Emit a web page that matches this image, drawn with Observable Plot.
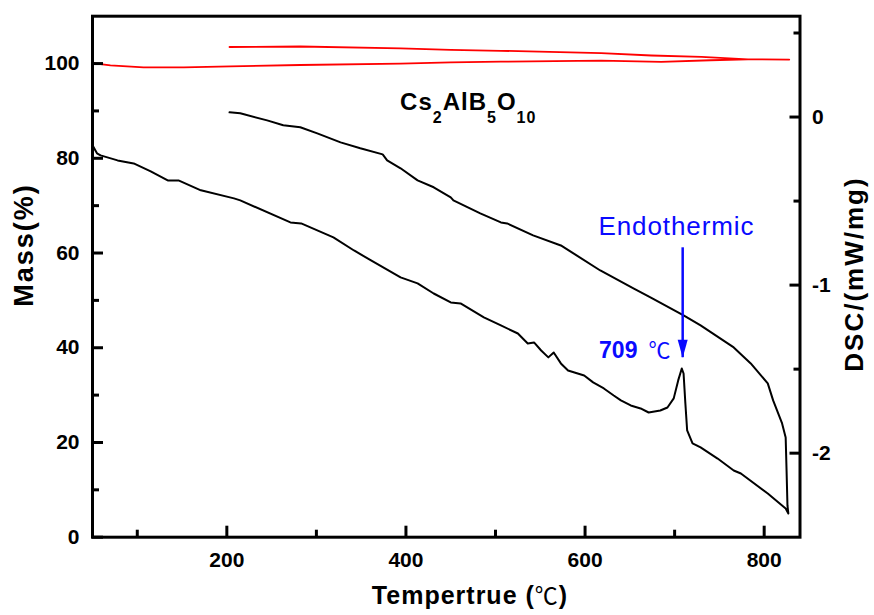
<!DOCTYPE html>
<html><head><meta charset="utf-8">
<script src="https://cdn.jsdelivr.net/npm/d3@7"></script>
<script src="https://cdn.jsdelivr.net/npm/@observablehq/plot@0.6"></script>
<style>body{margin:0;background:#fff;} svg{display:block;}</style>
</head><body><div id="chart"></div>
<script>
// DSC curve, heating run (temperature °C, DSC mW/mg)
const heatT = [50,55,59,78,96,115,134,146,171,208,215,271,283,319,342,361,394,413,431,450,461,487,506,525,536,543,551,559,565,573,581,599,609,621,632,640,651,662,671,684,692,699,704,708,710,712,714,720,729,748,766,774,804,824,827];
const heatDSC = [-0.168,-0.216,-0.228,-0.258,-0.276,-0.323,-0.377,-0.377,-0.436,-0.484,-0.496,-0.627,-0.633,-0.716,-0.794,-0.853,-0.954,-0.990,-1.050,-1.103,-1.109,-1.192,-1.240,-1.288,-1.347,-1.341,-1.389,-1.430,-1.401,-1.466,-1.508,-1.538,-1.579,-1.615,-1.657,-1.686,-1.716,-1.734,-1.758,-1.746,-1.728,-1.674,-1.567,-1.496,-1.526,-1.704,-1.865,-1.942,-1.966,-2.032,-2.103,-2.121,-2.240,-2.329,-2.359];
// DSC curve, cooling run
const coolT = [826,825,824,820,810,804,785,766,729,710,673,654,617,587,573,542,513,506,483,453,450,431,413,394,379,374,349,327,301,282,263,245,215,203];
const coolDSC = [-2.311,-2.103,-1.907,-1.823,-1.686,-1.585,-1.466,-1.371,-1.240,-1.180,-1.073,-1.020,-0.913,-0.811,-0.764,-0.704,-0.633,-0.627,-0.573,-0.496,-0.478,-0.418,-0.377,-0.305,-0.258,-0.222,-0.186,-0.151,-0.097,-0.061,-0.049,-0.020,0.022,0.028];
// TG (mass %), heating then cooling
const massHeatT = [50,70,107,152,204,282,394,450,506,618,685,740,782,828];
const massHeat = [100.1,99.6,99.2,99.2,99.4,99.7,100.0,100.25,100.4,100.6,100.35,100.7,100.9,100.85];
const massCoolT = [828,782,730,674,618,506,450,394,282,203];
const massCool = [100.85,100.9,101.4,101.7,102.2,102.7,102.9,103.2,103.6,103.5];

// axes
const xTicks = [200,400,600,800];
const xMinor = [100,300,500,700];
const massTicks = [0,20,40,60,80,100];
const massMinor = [10,30,50,70,90];
const dscTicks = [0,-1,-2];
const dscMinor = [0.5,-0.5,-1.5];
const xDomain = [50,840];
const massDomain = [0,110];
const dscDomain = [-2.5,0.6];

// annotations
const peakT = 709;
const peakLabel = "709";
const arrowTop = 61.1, arrowTip = 37.9;   // in mass-axis units
const endoLabel = {T: 615, y: 63.7, text: "Endothermic"};
const formula = {T: 394, y: 90.1};

const toMass = d => (d - dscDomain[0]) / (dscDomain[1] - dscDomain[0]) * (massDomain[1] - massDomain[0]) + massDomain[0];
const fromMass = m => (m - massDomain[0]) / (massDomain[1] - massDomain[0]) * (dscDomain[1] - dscDomain[0]) + dscDomain[0];

const dscRows = heatT.map((T,i) => ({T, D: heatDSC[i]})).concat(coolT.map((T,i) => ({T, D: coolDSC[i]})));
const massRows = massHeatT.map((T,i) => ({T, m: massHeat[i]})).concat(massCoolT.map((T,i) => ({T, m: massCool[i]})));

const BLUE = "#0a0aff";
const headSymbol = {draw(ctx) { ctx.moveTo(0,0); ctx.lineTo(-5,-18); ctx.lineTo(5,-18); ctx.closePath(); }};

const plot = Plot.plot({
  width: 874, height: 615,
  marginLeft: 92, marginRight: 74.5, marginTop: 15.7, marginBottom: 78.3,
  x: {domain: xDomain, axis: null, label: null},
  y: {domain: massDomain, axis: null, label: null},
  style: {fontFamily: "'Liberation Sans', Arial, sans-serif", fontSize: "21px", fontWeight: "bold", color: "black", background: "white"},
  marks: [
    Plot.line(massRows, {x: "T", y: "m", stroke: "#ff0000", strokeWidth: 1.8}),
    Plot.line(dscRows, {x: "T", y: d => toMass(d.D), stroke: "black", strokeWidth: 2}),
    Plot.axisX({ticks: xTicks, tickSize: -11, tickPadding: 26, strokeWidth: 3, tickFormat: d => String(d), label: null}),
    Plot.axisX({ticks: xMinor, tickSize: -7, strokeWidth: 3, fill: "none", label: null}),
    Plot.axisY({ticks: massTicks, tickSize: -11, tickPadding: 24, strokeWidth: 3, tickFormat: d => String(d), label: null}),
    Plot.axisY({ticks: massMinor, tickSize: -7, strokeWidth: 3, fill: "none", label: null}),
    Plot.axisY({anchor: "right", ticks: dscTicks.map(toMass), tickSize: -11, tickPadding: 23, strokeWidth: 3, tickFormat: m => String(Math.round(fromMass(m))), label: null}),
    Plot.axisY({anchor: "right", ticks: dscMinor.map(toMass), tickSize: -7, strokeWidth: 3, fill: "none", label: null}),
    Plot.frame({stroke: "black", strokeWidth: 3}),
    Plot.ruleX([peakT], {y1: arrowTop, y2: arrowTip, stroke: BLUE, strokeWidth: 2.5}),
    Plot.dot([peakT], {x: d => d, y: arrowTip, symbol: headSymbol, fill: BLUE, stroke: "none", r: 1}),
    Plot.text([endoLabel], {x: "T", y: "y", text: "text", textAnchor: "start", lineAnchor: "bottom", fill: BLUE, fontWeight: "normal", fontSize: 26}),
    Plot.text([peakLabel], {x: 658.5, y: arrowTip, text: d => d, textAnchor: "end", lineAnchor: "bottom", fill: BLUE, fontWeight: "bold", fontSize: 23}),
    Plot.text(["℃"], {x: 670.8, y: arrowTip, text: d => d, textAnchor: "start", lineAnchor: "bottom", fill: BLUE, fontWeight: "normal", fontSize: 22, fontFamily: "'Noto Sans CJK SC', sans-serif"})
  ]
});
document.getElementById("chart").appendChild(plot);

const sx = plot.scale("x"), sy = plot.scale("y");
const svg = d3.select(plot);
// thicker ticks, like the reference
svg.selectAll("g[aria-label$='tick']").attr("stroke-width", 3).selectAll("path").attr("stroke-width", 3);
svg.selectAll("g[aria-label='frame'], g[aria-label='frame'] rect").attr("stroke-width", 3);
svg.select("g[aria-label='text'] text").attr("letter-spacing", 0.9);
// chemical formula with subscripts
const f = svg.append("text").attr("x", sx.apply(formula.T)).attr("y", sy.apply(formula.y))
  .attr("text-anchor", "start").attr("font-size", 24).attr("font-weight", "bold").attr("fill", "black").attr("letter-spacing", 1);
const parts = [["Cs",0],["2",1],["AlB",0],["5",1],["O",0],["10",1]];
let prevSub = 0;
for (const [s, sub] of parts) {
  const t = f.append("tspan").text(s);
  const dy = (sub - prevSub) * 13;
  if (dy) t.attr("dy", dy);
  if (sub) t.attr("font-size", 16);
  prevSub = sub;
}
// axis titles
const xt = svg.append("text").attr("x", 470).attr("y", 604).attr("text-anchor", "middle")
  .attr("font-size", 25).attr("font-weight", "bold").attr("letter-spacing", 1);
xt.append("tspan").text("Tempertrue (");
xt.append("tspan").attr("font-weight", "normal").attr("font-family", "'Noto Sans CJK SC', sans-serif").attr("font-size", 23).text("℃");
xt.append("tspan").text(")");
svg.append("text").attr("transform", "translate(33,245) rotate(-90)").attr("text-anchor", "middle")
  .attr("font-size", 27).attr("font-weight", "bold").attr("letter-spacing", 2).text("Mass(%)");
svg.append("text").attr("transform", "translate(863,274) rotate(-90)").attr("text-anchor", "middle")
  .attr("font-size", 26).attr("font-weight", "bold").attr("letter-spacing", 2).text("DSC/(mW/mg)");
</script></body></html>
